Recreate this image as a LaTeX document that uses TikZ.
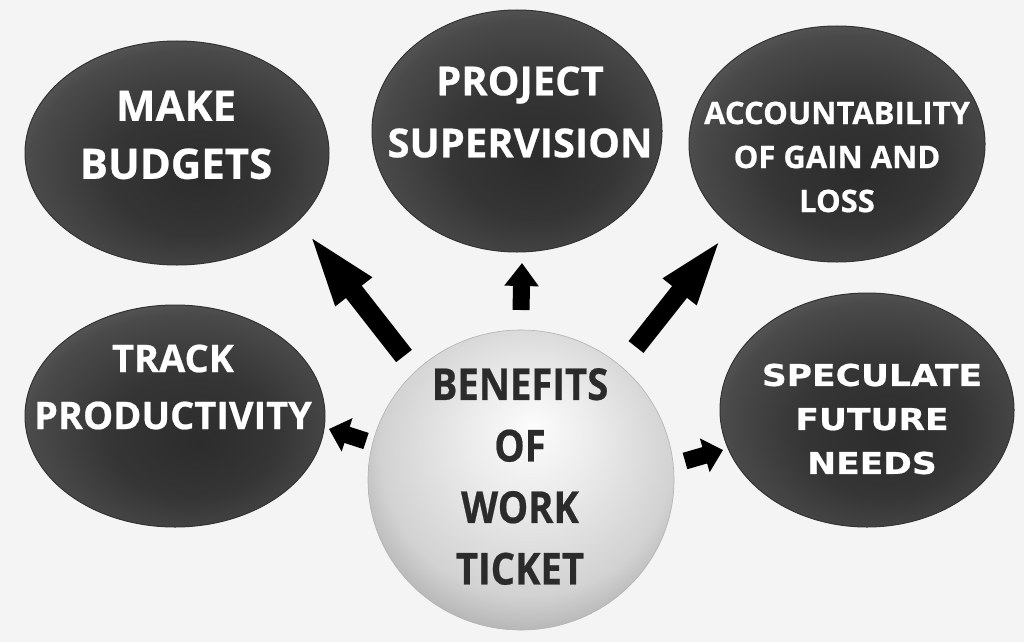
\documentclass[tikz,border=0pt]{standalone}
\usepackage{fontspec}
\setmainfont{Open Sans}[BoldFeatures={FakeBold=0.6}]
\newfontfamily\widefont[FakeStretch=1.15,BoldFeatures={FakeBold=0.6}]{DejaVu Sans}
\newfontfamily\condfont[FakeStretch=0.87,BoldFeatures={FakeBold=0.5}]{Open Sans}
\usetikzlibrary{shapes.geometric,arrows.meta,calc}
\definecolor{bg}{HTML}{F4F4F4}
\definecolor{dA}{HTML}{2C2C2C}
\definecolor{dB}{HTML}{353535}
\definecolor{dC}{HTML}{4A4A4A}
\definecolor{dD}{HTML}{6C6C6C}
\definecolor{wA}{HTML}{FCFCFC}
\definecolor{wB}{HTML}{ECECEC}
\definecolor{wC}{HTML}{D2D2D2}
\definecolor{wD}{HTML}{969696}
\definecolor{ctext}{HTML}{2B2B2B}
\pgfdeclareradialshading{darkell}{\pgfqpoint{4bp}{-6bp}}{color(0bp)=(dA); color(14bp)=(dB); color(26bp)=(dC); color(34bp)=(dD); color(50bp)=(dD)}
\pgfdeclareradialshading{wball}{\pgfqpoint{2bp}{9bp}}{color(0bp)=(wA); color(10bp)=(wB); color(24bp)=(wC); color(35bp)=(wD); color(50bp)=(wD)}
\tikzset{
  bubble/.style={ellipse, shading=darkell, draw=black!80, line width=1pt, inner sep=0pt},
  sphere/.style={ellipse, shading=wball, draw=gray!60, line width=0.6pt, inner sep=0pt},
  wtext/.style={text=white, align=center, inner sep=0pt},
  ctxt/.style={text=ctext, align=center, inner sep=0pt},
  bigarrow/.style={draw=black, line cap=butt}
}
\begin{document}
\begin{tikzpicture}[x=1pt,y=-1pt]
\useasboundingbox (0,0) rectangle (1024,642);
\fill[bg] (0,0) rectangle (1024,642);
% bubbles
\node[bubble, minimum width=304pt, minimum height=224pt] (mb) at (177,153) {};
\node[bubble, minimum width=290pt, minimum height=242pt] (ps) at (517,131) {};
\node[bubble, minimum width=296pt, minimum height=236pt] (ac) at (837,144) {};
\node[bubble, minimum width=300pt, minimum height=222pt] (tp) at (175,416) {};
\node[bubble, minimum width=294pt, minimum height=234pt] (sf) at (867,410) {};
\node[sphere, minimum width=306pt, minimum height=300pt] (c) at (521,480) {};
% texts
\node[wtext, font=\bfseries\fontsize{42}{58}\selectfont] (mbt) at ($(mb)+(-1,-18)$) {MAKE\\BUDGETS};
\node[wtext, font=\bfseries\fontsize{40}{62}\selectfont] (pst) at ($(ps)+(3,-19)$) {PROJECT\\SUPERVISION};
\node[wtext, font=\bfseries\fontsize{31}{44}\selectfont] (act) at ($(ac)+(0,13)$) {ACCOUNTABILITY\\OF GAIN AND\\LOSS};
\node[wtext, font=\bfseries\fontsize{38}{57}\selectfont] (tpt) at ($(tp)+(-2,-29)$) {TRACK\\PRODUCTIVITY};
\node[wtext, font=\widefont\bfseries\fontsize{30}{44}\selectfont] (sft) at ($(sf)+(5,9)$) {SPECULATE\\FUTURE\\NEEDS};
\node[ctxt, font=\condfont\bfseries\fontsize{44}{61.5}\selectfont] (ct) at ($(c)+(-1,-3.5)$) {BENEFITS\\OF\\WORK\\TICKET};
% arrows
\coordinate (a1s) at ($(c)+(-117,-124)$);
\coordinate (a1e) at ($(mb)+(130,79)$);
\coordinate (a2s) at ($(c)+(0,-170)$);
\coordinate (a2e) at ($(ps)+(5,132)$);
\coordinate (a3s) at ($(c)+(115,-133)$);
\coordinate (a3e) at ($(ac)+(-114,93)$);
\coordinate (a4s) at ($(c)+(-155,-39)$);
\coordinate (a4e) at ($(tp)+(154,13)$);
\coordinate (a5s) at ($(c)+(164,-19)$);
\coordinate (a5e) at ($(sf)+(-144,40)$);
\draw[bigarrow, line width=20pt, -{Triangle[length=76pt,width=40pt]}] (a1s) -- (a1e);
\draw[bigarrow, line width=17pt, -{Triangle[length=23pt,width=33pt]}] (a2s) -- (a2e);
\draw[bigarrow, line width=19pt, -{Triangle[length=70pt,width=37pt]}] (a3s) -- (a3e);
\draw[bigarrow, line width=17pt, -{Triangle[length=19pt,width=34pt]}] (a4s) -- (a4e);
\draw[bigarrow, line width=17pt, -{Triangle[length=19pt,width=34pt]}] (a5s) -- (a5e);
\end{tikzpicture}
\end{document}
